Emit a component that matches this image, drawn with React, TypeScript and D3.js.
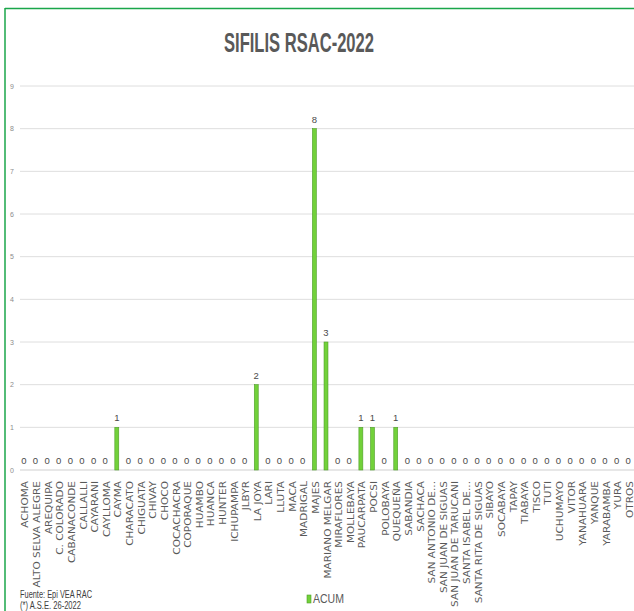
import React from "react";
import * as d3 from "d3";

const categories = [
  "ACHOMA","ALTO SELVA ALEGRE","AREQUIPA","C. COLORADO","CABANACONDE","CALLALLI","CAYARANI","CAYLLOMA","CAYMA","CHARACATO",
  "CHIGUATA","CHIVAY","CHOCO","COCACHACRA","COPORAQUE","HUAMBO","HUANCA","HUNTER","ICHUPAMPA","JLBYR",
  "LA JOYA","LARI","LLUTA","MACA","MADRIGAL","MAJES","MARIANO MELGAR","MIRAFLORES","MOLLEBAYA","PAUCARPATA",
  "POCSI","POLOBAYA","QUEQUEÑA","SABANDIA","SACHACA","SAN ANTONIO DE...","SAN JUAN DE SIGUAS","SAN JUAN DE TARUCANI","SANTA ISABEL DE...","SANTA RITA DE SIGUAS",
  "SIBAYO","SOCABAYA","TAPAY","TIABAYA","TISCO","TUTI","UCHUMAYO","VITOR","YANAHUARA","YANQUE",
  "YARABAMBA","YURA","OTROS"
];
const acum = [
  0,0,0,0,0,0,0,0,1,0,
  0,0,0,0,0,0,0,0,0,0,
  2,0,0,0,0,8,3,0,0,1,
  1,0,1,0,0,0,0,0,0,0,
  0,0,0,0,0,0,0,0,0,0,
  0,0,0
];
const yTicks = [0,1,2,3,4,5,6,7,8,9];
const title = "SIFILIS RSAC-2022";
const seriesName = "ACUM";
const footnotes = ["Fuente: Epi VEA RAC", "(*) A.S.E. 26-2022"];

export default function App() {
  const W = 634, H = 611;
  const x = d3.scaleBand<string>().domain(categories).range([18, 634]).paddingInner(0.66).paddingOuter(0.33);
  const y = d3.scaleLinear().domain([0, 9]).range([470, 86]);
  const narrow = "'Liberation Sans Narrow', 'Liberation Sans', Arial, sans-serif";
  return (
    <svg width={W} height={H} style={{ position: "absolute", left: 0, top: 0, background: "#fff" }}>
      <rect x={0} y={0} width={W} height={H} fill="#fff" />
      {/* border */}
      <line x1={5} y1={8.5} x2={W} y2={8.5} stroke="#1aa64a" strokeWidth={1.5} />
      <line x1={5} y1={8} x2={5} y2={H} stroke="#1aa64a" strokeWidth={1.5} />
      <text x={299} y={52} textAnchor="middle" fontFamily={narrow} fontWeight="bold" fontSize={27}
        fill="#595959" textLength={150} lengthAdjust="spacingAndGlyphs">{title}</text>
      {/* grid */}
      {yTicks.map(t => (
        <g key={t}>
          <line x1={20} x2={W} y1={y(t)} y2={y(t)} stroke={t === 0 ? "#cfcfcf" : "#dedede"} strokeWidth={1} />
          <text x={12} y={y(t) + 2.5} textAnchor="middle" fontFamily={narrow} fontSize={7} fill="#8c8c8c">{t}</text>
        </g>
      ))}
      {/* bars */}
      {categories.map((c, i) => {
        const v = acum[i];
        const cx = (x(c) as number) + x.bandwidth() / 2;
        return (
          <g key={c}>
            {v > 0 && (
              <rect x={x(c)} y={y(v)} width={x.bandwidth()} height={y(0) - y(v)}
                fill="#72d13a" stroke="#4f9e2a" strokeWidth={0.6} />
            )}
            <text x={cx} y={y(v) - 6} textAnchor="middle" fontFamily={narrow} fontSize={9.5} fill="#4a4a4a">{v}</text>
            <text transform={`translate(${cx + 4.6},${481}) rotate(-90) scale(1.12,1)`} textAnchor="end"
              fontFamily="'DejaVu Sans', Verdana, sans-serif" fontSize={9.4} fill="#595959">{c}</text>
          </g>
        );
      })}
      {/* legend */}
      <rect x={307} y={595} width={4} height={8} fill="#72d13a" stroke="#4f9e2a" strokeWidth={0.6} />
      <text x={313} y={603} fontFamily={narrow} fontSize={12} fill="#595959" textLength={31} lengthAdjust="spacingAndGlyphs">{seriesName}</text>
      {/* footnotes */}
      <text x={20} y={598} fontFamily={narrow} fontSize={10} fill="#404040" textLength={72} lengthAdjust="spacingAndGlyphs">{footnotes[0]}</text>
      <text x={20} y={609} fontFamily={narrow} fontSize={10} fill="#404040" textLength={61} lengthAdjust="spacingAndGlyphs">{footnotes[1]}</text>
    </svg>
  );
}
